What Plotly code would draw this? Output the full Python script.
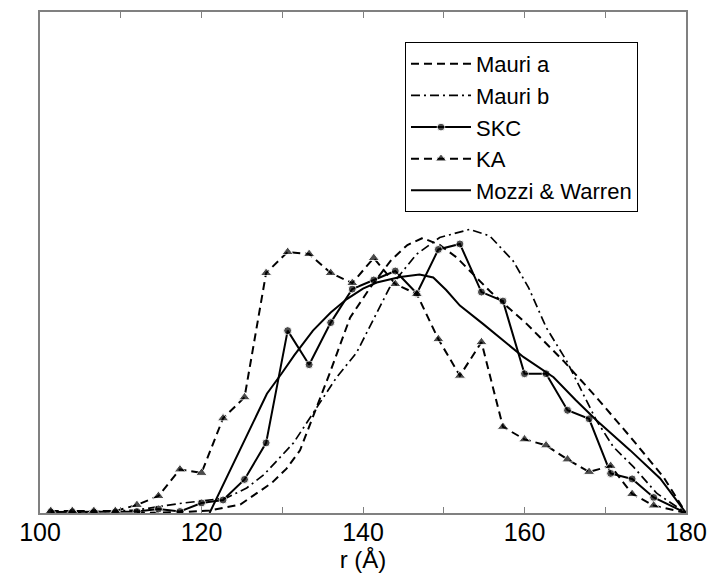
import plotly.graph_objects as go

# ---- data (y in % of plot height) ----
grid_x = [101.33, 104.0, 106.67, 109.33, 112.0, 114.67, 117.33, 120.0, 122.67, 125.33,
          128.0, 130.67, 133.33, 136.0, 138.67, 141.33, 144.0, 146.67, 149.33, 152.0,
          154.67, 157.33, 160.0, 162.67, 165.33, 168.0, 170.67, 173.33, 176.0, 180.0]

ka_y = [0.4, 0.4, 0.4, 0.4, 1.6, 3.4, 8.7, 8.0, 18.9, 23.1,
        47.9, 52.1, 51.7, 47.9, 45.9, 50.9, 45.7, 43.7, 34.7, 27.4,
        34.1, 17.2, 14.7, 13.5, 10.7, 8.2, 9.4, 3.8, 1.5, 0.0]

skc_y = [0.2, 0.2, 0.2, 0.2, 0.3, 0.8, 0.3, 2.0, 2.6, 6.7,
         14.0, 36.4, 29.6, 38.0, 44.7, 46.5, 48.3, 43.8, 52.6, 53.7,
         44.1, 42.3, 27.8, 27.8, 20.5, 18.8, 7.9, 6.8, 3.1, 0.0]

mauri_a_x = [112, 118, 121, 124.8, 128.7, 130.5, 132.2, 133.4, 135.9, 138.4, 140.9,
             143.5, 145.5, 147.4, 149.5, 151.6, 155.7, 160.3, 164.8, 168.9, 173.1, 177.2, 180]
mauri_a_y = [0, 0.2, 0.5, 1.7, 6.0, 8.8, 12.5, 17.5, 28.0, 39.0, 45.0,
             50.5, 53.5, 54.9, 53.5, 51.0, 44.3, 37.7, 30.4, 23.1, 15.2, 7.2, 0]

mauri_b_x = [104, 108, 112, 117.3, 123.1, 125.6, 127.7, 131.4, 134.3, 136.7, 139.2, 141.7,
             143.3, 146.6, 149.5, 153.2, 155.7, 158.6, 160.5, 162.7, 165.2, 168.9, 171.0,
             173.5, 176.4, 180]
mauri_b_y = [0, 0.3, 0.6, 1.9, 3.0, 5.0, 7.6, 14.0, 21.0, 27.0, 32.0, 40.0,
             45.0, 51.6, 55.0, 56.6, 55.3, 50.3, 45.0, 37.0, 30.4, 18.5, 13.2,
             9.2, 3.9, 0]

mozzi_x = [121.0, 122.5, 124.8, 128.1, 129.9, 131.5, 133.8, 136.0, 138.0, 140.0, 141.7,
           144.6, 147.0, 148.7, 150.3, 152.0, 154.9, 157.5, 159.9, 163.6, 166.3, 168.9,
           173.1, 176.8, 180.0]
mozzi_y = [0, 5.0, 12.5, 23.8, 27.8, 31.5, 36.4, 40.0, 42.7, 44.8, 46.0,
           47.1, 47.6, 47.0, 44.5, 41.4, 37.7, 34.3, 31.1, 27.1, 22.6, 18.5,
           12.5, 6.9, 0]

x_ticks = [100, 110, 120, 130, 140, 150, 160, 170, 180]
x_ticktext = ["100", "", "120", "", "140", "", "160", "", "180"]

# marker sizes (no marker on the closing point at 180)
circle_sizes = [8] * (len(grid_x) - 1) + [0]
tri_sizes = [10] * (len(grid_x) - 1) + [0]

FONT = "Liberation Sans, Arial, sans-serif"
DASH = "8px,5px"
DASHDOT = "9px,4px,2px,4px"
LW = 2

fig = go.Figure()
fig.add_trace(go.Scatter(x=mauri_a_x, y=mauri_a_y, mode="lines", name="Mauri a",
                         line=dict(color="black", width=LW, dash=DASH)))
fig.add_trace(go.Scatter(x=mauri_b_x, y=mauri_b_y, mode="lines", name="Mauri b",
                         line=dict(color="black", width=1.7, dash=DASHDOT)))
fig.add_trace(go.Scatter(x=grid_x, y=skc_y, mode="lines+markers", name="SKC",
                         line=dict(color="black", width=LW),
                         marker=dict(symbol="circle", size=circle_sizes, color="black")))
fig.add_trace(go.Scatter(x=grid_x, y=ka_y, mode="lines+markers", name="KA",
                         line=dict(color="black", width=LW, dash=DASH),
                         marker=dict(symbol="triangle-up", size=tri_sizes, color="black")))
fig.add_trace(go.Scatter(x=mozzi_x, y=mozzi_y, mode="lines", name="Mozzi & Warren",
                         line=dict(color="black", width=LW)))

# page body has an 8px margin, so the figure is sized/margined to compensate
fig.update_layout(
    width=707, height=573,
    margin=dict(l=32, r=29, t=2, b=68),
    paper_bgcolor="white", plot_bgcolor="white",
    font=dict(family=FONT, color="black", size=24),
    showlegend=True,
    legend=dict(x=0.565, y=0.94, xanchor="left", yanchor="top",
                bgcolor="white", bordercolor="black", borderwidth=1,
                font=dict(family=FONT, size=22, color="black"),
                itemwidth=60, tracegroupgap=0),
    xaxis=dict(range=[100, 180], tickvals=x_ticks, ticktext=x_ticktext,
               ticks="inside", ticklen=6, tickwidth=1, tickcolor="#808080",
               showline=True, linecolor="#808080", linewidth=2, mirror="ticks",
               showgrid=False, zeroline=False, ticklabelstandoff=-4,
               tickfont=dict(family=FONT, size=25, color="black"),
               title=dict(text="r (Å)", font=dict(family=FONT, size=24, color="black"),
                          standoff=2)),
    yaxis=dict(range=[0, 100], showticklabels=False, ticks="",
               showline=True, linecolor="#808080", linewidth=2, mirror=True,
               showgrid=False, zeroline=False),
)

fig.write_html("out.html")
